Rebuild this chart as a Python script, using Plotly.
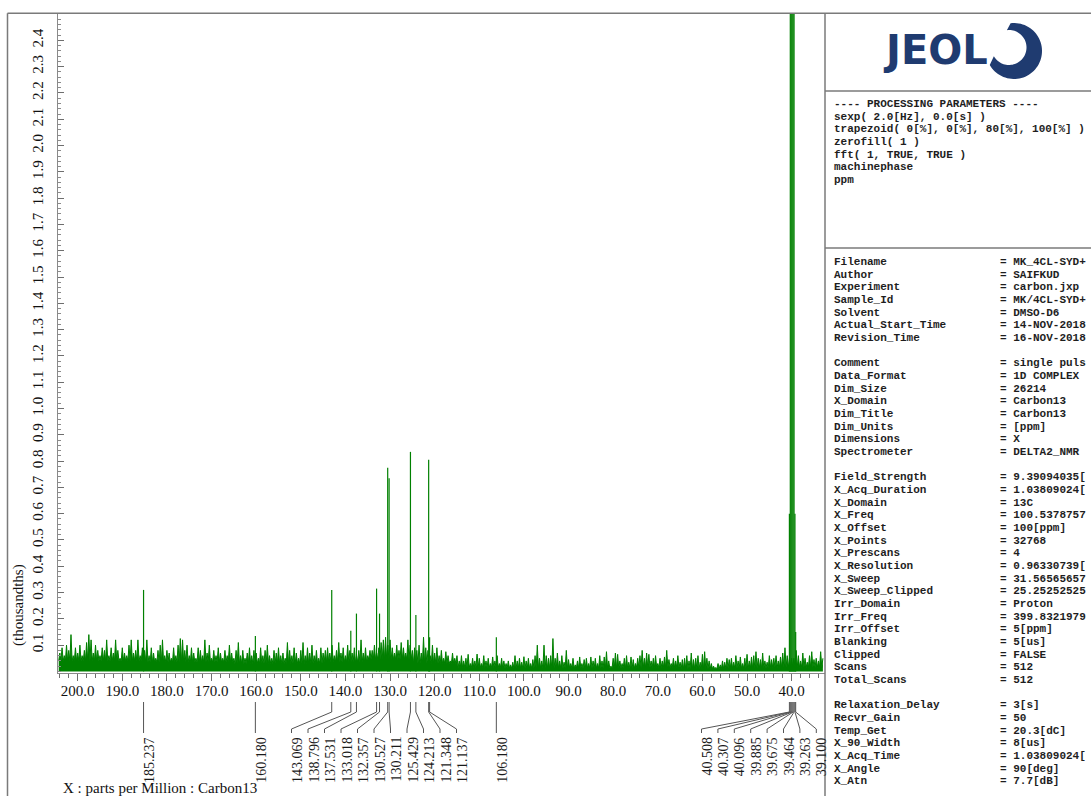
import numpy as np
import plotly.graph_objects as go

W, H = 1091, 796
GREEN = "rgb(0,128,0)"
FRAME = "#7a7a7a"

# ---------------- spectrum data (ppm, intensity in thousandths) ----------------
peak_ppm = [185.237, 160.180, 143.069, 138.796, 137.531, 133.018, 132.357,
            130.527, 130.211, 125.429, 124.213, 121.348, 121.137, 106.180,
            40.508, 40.307, 40.096, 39.885, 39.675, 39.464, 39.263, 39.100]
peak_height = [0.31, 0.135, 0.31, 0.155, 0.22, 0.315, 0.22,
               0.775, 0.735, 0.835, 0.215, 0.805, 0.13, 0.13,
               0.6, 2.8, 5.0, 6.0, 5.0, 2.8, 0.6, 0.15]

# baseline noise: local maxima every 0.5 ppm from 204.0 ppm downwards
noise_start, noise_step = 204.0, 0.5
noise_top = [
    0.07, 0.09, 0.06, 0.10, 0.08, 0.14, 0.06, 0.09, 0.07, 0.10, 0.06, 0.08, 0.11, 0.14, 0.12, 0.07, 0.10, 0.08, 0.06, 0.09,
    0.08, 0.12, 0.06, 0.09, 0.07, 0.12, 0.08, 0.05, 0.09, 0.07, 0.06, 0.10, 0.12, 0.07, 0.08, 0.12, 0.06, 0.09, 0.08, 0.12,
    0.06, 0.09, 0.07, 0.05, 0.08, 0.10, 0.12, 0.06, 0.08, 0.07, 0.05, 0.09, 0.06, 0.10, 0.125, 0.12, 0.08, 0.10, 0.06, 0.09,
    0.07, 0.05, 0.09, 0.08, 0.06, 0.12, 0.07, 0.10, 0.05, 0.08, 0.06, 0.09, 0.07, 0.05, 0.08, 0.06, 0.10, 0.07, 0.05, 0.08,
    0.11, 0.06, 0.08, 0.05, 0.07, 0.09, 0.06, 0.08, 0.07, 0.05, 0.09, 0.06, 0.08, 0.10, 0.06, 0.05, 0.08, 0.07, 0.09, 0.06,
    0.07, 0.05, 0.11, 0.08, 0.06, 0.09, 0.07, 0.05, 0.08, 0.11, 0.06, 0.09, 0.07, 0.10, 0.06, 0.08, 0.05, 0.09, 0.07, 0.08,
    0.09, 0.07, 0.10, 0.06, 0.08, 0.11, 0.07, 0.09, 0.06, 0.10, 0.08, 0.07, 0.09, 0.06, 0.08, 0.12, 0.07, 0.09, 0.06, 0.08,
    0.08, 0.10, 0.07, 0.09, 0.11, 0.12, 0.13, 0.10, 0.12, 0.09, 0.07, 0.10, 0.08, 0.11, 0.09, 0.07, 0.12, 0.10, 0.08, 0.09,
    0.08, 0.10, 0.07, 0.13, 0.09, 0.08, 0.06, 0.10, 0.07, 0.09, 0.06, 0.08, 0.05, 0.075, 0.06, 0.04, 0.07, 0.05, 0.06, 0.04,
    0.06, 0.04, 0.05, 0.065, 0.03, 0.05, 0.04, 0.066, 0.05, 0.03, 0.06, 0.04, 0.05, 0.03, 0.055, 0.04, 0.06, 0.03, 0.05, 0.04,
    0.03, 0.04, 0.025, 0.035, 0.06, 0.04, 0.05, 0.035, 0.056, 0.04, 0.05, 0.03, 0.045, 0.06, 0.10, 0.05, 0.04, 0.10, 0.06, 0.05,
    0.06, 0.125, 0.05, 0.07, 0.04, 0.06, 0.035, 0.08, 0.045, 0.03, 0.05, 0.025, 0.04, 0.055, 0.03, 0.045, 0.05, 0.03, 0.055, 0.04,
    0.05, 0.03, 0.06, 0.04, 0.055, 0.075, 0.04, 0.02, 0.05, 0.07, 0.065, 0.04, 0.03, 0.05, 0.06, 0.035, 0.055, 0.045, 0.03, 0.05,
    0.06, 0.08, 0.05, 0.07, 0.065, 0.04, 0.05, 0.06, 0.03, 0.05, 0.04, 0.055, 0.08, 0.045, 0.03, 0.05, 0.04, 0.06, 0.035, 0.045,
    0.05, 0.06, 0.04, 0.07, 0.045, 0.05, 0.06, 0.035, 0.065, 0.075, 0.05, 0.04, 0.03, 0.02, 0.015, 0.03, 0.025, 0.04, 0.035, 0.05,
    0.045, 0.05, 0.035, 0.06, 0.04, 0.055, 0.03, 0.05, 0.065, 0.04, 0.055, 0.06, 0.075, 0.05, 0.045, 0.07, 0.04, 0.035, 0.06, 0.045,
    0.05, 0.06, 0.04, 0.055, 0.07, 0.09, 0.06, 0.05, 0.05, 0.05, 0.08, 0.06, 0.04, 0.07, 0.05, 0.035, 0.06, 0.075, 0.045, 0.05,
    0.04, 0.075, 0.05,
]
noise_ppm = [round(noise_start - i * noise_step, 1) for i in range(len(noise_top))]

# solid floor of the noise band, one level per 10 ppm stretch (upper edge of each stretch)
floor_edge = [204.5, 195, 185, 175, 165, 155, 145, 135, 125, 115, 105, 95, 85, 75, 65, 55, 45, 35]
floor_level = [0.04, 0.04, 0.035, 0.035, 0.03, 0.03, 0.035, 0.045, 0.03, 0.015,
               0.012, 0.012, 0.012, 0.015, 0.01, 0.012, 0.015, 0.015]

# axis ticks
x_major = [200, 190, 180, 170, 160, 150, 140, 130, 120, 110, 100, 90, 80, 70, 60, 50, 40]
y_major = [round(0.1 * k, 1) for k in range(1, 25)]

# ---------------- layout geometry (pixels) ----------------
PLOT_L, PLOT_R, PLOT_T, PLOT_B = 58, 825, 13.3, 673
X_LEFT, X_RIGHT = 204.41, 32.53
Y_LO, Y_HI = -0.006, 2.503


def fx(px):
    return px / W


def fy(py):
    return 1 - py / H


def px_to_ppm(px):
    return X_LEFT - (px - PLOT_L) * (X_LEFT - X_RIGHT) / (PLOT_R - PLOT_L)


def floor_at(ppm):
    level = floor_level[0]
    for edge, lv in zip(floor_edge, floor_level):
        if ppm <= edge:
            level = lv
    return level


fig = go.Figure()

# noise band: each local maximum is joined through the floor level to the next one
zx, zy = [], []
for p, h in zip(noise_ppm, noise_top):
    zx += [p + noise_step / 2, p]
    zy += [floor_at(p + noise_step / 2), h]
fig.add_trace(go.Scatter(x=zx, y=zy, mode="lines",
                         line=dict(width=1, color=GREEN), fill="tozeroy", fillcolor=GREEN,
                         hoverinfo="skip", showlegend=False))


def sticks(ppm, heights):
    xs, ys = [], []
    for p, h in zip(ppm, heights):
        xs += [p, p, None]
        ys += [0, h, None]
    return xs, ys


px_, py_ = sticks(peak_ppm, peak_height)
fig.add_trace(go.Scatter(x=px_, y=py_, mode="lines", line=dict(width=1.2, color=GREEN),
                         hoverinfo="skip", showlegend=False))

# ---------------- peak label connectors ----------------
groups = [
    ([185.237], None, None),
    ([160.180], None, None),
    ([143.069, 138.796, 137.531, 133.018, 132.357, 130.527, 130.211,
      125.429, 124.213, 121.348, 121.137], 291.5, 16.5),
    ([106.180], None, None),
    ([40.508, 40.307, 40.096, 39.885, 39.675, 39.464, 39.263, 39.100], 701.5, 16.4),
]
LINE_TOP, LINE_BEND, LINE_SLANT, LINE_END, LABEL_TOP = 702, 712, 729, 733, 735

cx, cy = [], []
annotations = []
for members, start_px, step_px in groups:
    for i, p in enumerate(members):
        end_ppm = p if start_px is None else px_to_ppm(start_px + i * step_px)
        cx += [p, p, end_ppm, end_ppm, None]
        cy += [LINE_TOP, LINE_BEND, LINE_SLANT, LINE_END, None]
        annotations.append(dict(
            x=end_ppm, xref="x", y=fy(LABEL_TOP), yref="paper", xshift=5.5,
            text=f"{p:.3f}", textangle=-90, showarrow=False,
            xanchor="center", yanchor="top",
            font=dict(family="Liberation Serif", size=14, color="#1a1a1a")))

fig.add_trace(go.Scatter(x=cx, y=cy, mode="lines", line=dict(width=1, color="#555555"),
                         xaxis="x2", yaxis="y2", hoverinfo="skip", showlegend=False))

# ---------------- axis titles ----------------
annotations.append(dict(x=fx(18), y=fy(605), xref="paper", yref="paper", text="(thousandths)",
                        textangle=-90, showarrow=False, xanchor="center", yanchor="middle",
                        font=dict(family="Liberation Serif", size=15, color="#111")))
annotations.append(dict(x=fx(61), y=fy(788), xref="paper", yref="paper",
                        text="X : parts per Million : Carbon13", showarrow=False,
                        xanchor="left", yanchor="middle",
                        font=dict(family="Liberation Serif", size=15, color="#111")))

# ---------------- parameter panel ----------------
MONO = dict(family="Liberation Mono", size=11, color="#1e1e1e", weight="bold")
processing = [
    "---- PROCESSING PARAMETERS ----",
    "sexp( 2.0[Hz], 0.0[s] )",
    "trapezoid( 0[%], 0[%], 80[%], 100[%] )",
    "zerofill( 1 )",
    "fft( 1, TRUE, TRUE )",
    "machinephase",
    "ppm",
]
for i, line in enumerate(processing):
    annotations.append(dict(x=fx(832), y=fy(104 + i * 12.67), xref="paper", yref="paper",
                            text=line, showarrow=False, xanchor="left", yanchor="middle", font=MONO))

# values as far as the panel width shows them
params = [
    ("Filename", "MK_4CL-SYD+"),
    ("Author", "SAIFKUD"),
    ("Experiment", "carbon.jxp"),
    ("Sample_Id", "MK/4CL-SYD+"),
    ("Solvent", "DMSO-D6"),
    ("Actual_Start_Time", "14-NOV-2018"),
    ("Revision_Time", "16-NOV-2018"),
    None,
    ("Comment", "single puls"),
    ("Data_Format", "1D COMPLEX"),
    ("Dim_Size", "26214"),
    ("X_Domain", "Carbon13"),
    ("Dim_Title", "Carbon13"),
    ("Dim_Units", "[ppm]"),
    ("Dimensions", "X"),
    ("Spectrometer", "DELTA2_NMR"),
    None,
    ("Field_Strength", "9.39094035["),
    ("X_Acq_Duration", "1.03809024["),
    ("X_Domain", "13C"),
    ("X_Freq", "100.5378757"),
    ("X_Offset", "100[ppm]"),
    ("X_Points", "32768"),
    ("X_Prescans", "4"),
    ("X_Resolution", "0.96330739["),
    ("X_Sweep", "31.56565657"),
    ("X_Sweep_Clipped", "25.25252525"),
    ("Irr_Domain", "Proton"),
    ("Irr_Freq", "399.8321979"),
    ("Irr_Offset", "5[ppm]"),
    ("Blanking", "5[us]"),
    ("Clipped", "FALSE"),
    ("Scans", "512"),
    ("Total_Scans", "512"),
    None,
    ("Relaxation_Delay", "3[s]"),
    ("Recvr_Gain", "50"),
    ("Temp_Get", "20.3[dC]"),
    ("X_90_Width", "8[us]"),
    ("X_Acq_Time", "1.03809024["),
    ("X_Angle", "90[deg]"),
    ("X_Atn", "7.7[dB]"),
]
for i, item in enumerate(params):
    if item is None:
        continue
    key, val = item
    yy = fy(262 + i * 12.67)
    annotations.append(dict(x=fx(832), y=yy, xref="paper", yref="paper", text=key, showarrow=False,
                            xanchor="left", yanchor="middle", font=MONO))
    annotations.append(dict(x=fx(998), y=yy, xref="paper", yref="paper", text="= " + val,
                            showarrow=False, xanchor="left", yanchor="middle", font=MONO))

# logo lettering
annotations.append(dict(x=fx(935), y=fy(50), xref="paper", yref="paper", text="<b>JEOL</b>",
                        showarrow=False, xanchor="center", yanchor="middle",
                        font=dict(family="DejaVu Sans", size=40, color="#1f3b70")))

# ---------------- frame & logo shapes ----------------
shapes = []


def hline(y, x0, x1, color=FRAME, width=1.5):
    shapes.append(dict(type="line", xref="paper", yref="paper", x0=fx(x0), x1=fx(x1),
                       y0=fy(y), y1=fy(y), line=dict(color=color, width=width)))


def vline(x, y0, y1, color=FRAME, width=1.5):
    shapes.append(dict(type="line", xref="paper", yref="paper", x0=fx(x), x1=fx(x),
                       y0=fy(y0), y1=fy(y1), line=dict(color=color, width=width)))


hline(13.3, 7.5, W)
vline(7.5, 13.3, H)
vline(825, 13.3, H)
hline(91, 825, W)
hline(248, 825, W)

# swoosh ring of the logo
ocx, ocy, R = 1014, 51, 28
icx, icy, r = 1009, 47.5, 17.5
a_out = np.radians(np.linspace(97, -150, 60))
a_in = np.radians(np.linspace(-150, 97, 60))
pts = [(ocx + R * np.cos(a), ocy - R * np.sin(a)) for a in a_out]
pts += [(icx + r * np.cos(a), icy - r * np.sin(a)) for a in a_in]
path = "M " + " L ".join(f"{fx(x):.5f},{fy(y):.5f}" for x, y in pts) + " Z"
shapes.append(dict(type="path", xref="paper", yref="paper", path=path,
                   fillcolor="#1f3b70", line=dict(width=0)))

fig.update_layout(
    width=W, height=H, autosize=False,
    margin=dict(l=0, r=0, t=0, b=0),
    paper_bgcolor="white", plot_bgcolor="white",
    showlegend=False,
    xaxis=dict(domain=[fx(PLOT_L), fx(PLOT_R)], range=[X_LEFT, X_RIGHT], anchor="y",
               showgrid=False, zeroline=False, showline=True, linecolor="#8a8a8a", linewidth=1,
               tickmode="array", tickvals=x_major, ticktext=[f"{v:.1f}" for v in x_major],
               ticks="outside", ticklen=7, tickcolor="#6e6e6e", ticklabelstandoff=-3,
               minor=dict(tickmode="linear", tick0=0, dtick=2, ticks="outside", ticklen=4,
                          tickcolor="#6e6e6e"),
               tickfont=dict(family="Liberation Serif", size=15, color="#111")),
    yaxis=dict(domain=[fy(PLOT_B), fy(PLOT_T)], range=[Y_LO, Y_HI], anchor="x",
               showgrid=False, zeroline=False, showline=True, linecolor="#8a8a8a", linewidth=1,
               tickmode="array", tickvals=y_major, ticktext=[f"{v:.1f}" for v in y_major],
               ticks="inside", ticklen=6, tickcolor="#6e6e6e", tickangle=-90, ticklabelstandoff=8,
               minor=dict(tickmode="linear", tick0=0, dtick=0.02, ticks="inside", ticklen=3,
                          tickcolor="#8a8a8a"),
               tickfont=dict(family="Liberation Serif", size=15, color="#111")),
    xaxis2=dict(domain=[fx(PLOT_L), fx(PLOT_R)], range=[X_LEFT, X_RIGHT], anchor="y2", visible=False),
    yaxis2=dict(domain=[fy(745), fy(695)], range=[745, 695], anchor="x2", visible=False),
    annotations=annotations,
    shapes=shapes,
)

fig.write_html("out.html", config={"displayModeBar": False})
